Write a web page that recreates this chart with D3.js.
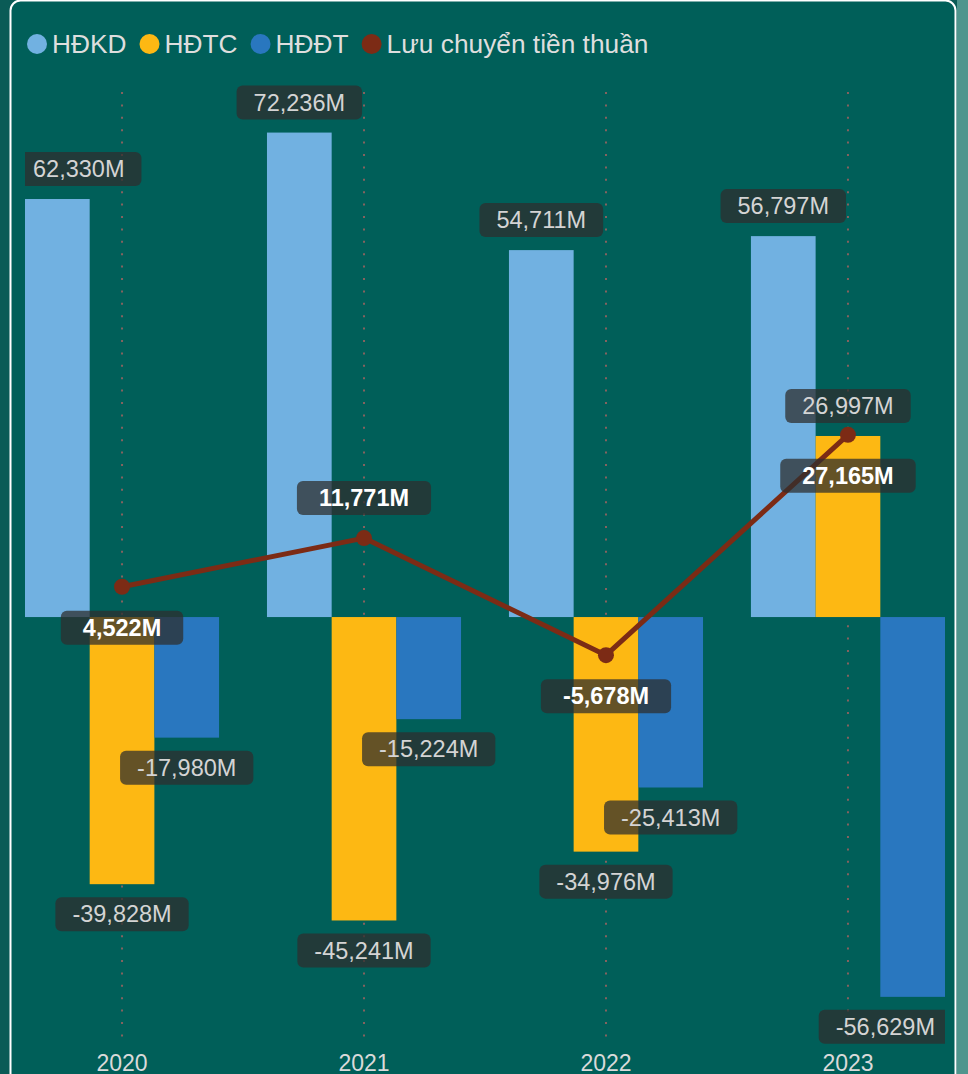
<!DOCTYPE html>
<html>
<head>
<meta charset="utf-8">
<script src="https://cdn.jsdelivr.net/npm/d3@7/dist/d3.min.js"></script>
<style>
  html, body { margin: 0; padding: 0; background: #0a5b56; }
  svg { display: block; }
</style>
</head>
<body>
<svg id="chart" width="968" height="1074"></svg>
<script>
// Cash-flow components per year (millions)
const years = ["2020", "2021", "2022", "2023"];
const seriesNames = ["HĐKD", "HĐTC", "HĐĐT"];
const hdkd = [62330, 72236, 54711, 56797];
const hdtc = [-39828, -45241, -34976, 26997];
const hddt = [-17980, -15224, -25413, -56629];
const netFlow = [4522, 11771, -5678, 27165];
const netName = "Lưu chuyển tiền thuần";

const colors = { "HĐKD": "#71b1e1", "HĐTC": "#fdb813", "HĐĐT": "#2977bf", net: "#7c2b15" };
const seriesValues = { "HĐKD": hdkd, "HĐTC": hdtc, "HĐĐT": hddt };

const W = 968, H = 1074;
const svg = d3.select("#chart");
const FONT = "'Liberation Sans', Arial, sans-serif";
const fmt = v => (v < 0 ? "-" : "") + d3.format(",")(Math.abs(v)) + "M";

// page surround and card
svg.append("rect").attr("x", 957).attr("y", 0).attr("width", 11).attr("height", H).attr("fill", "#4f958d");
svg.append("rect").attr("x", 10.5).attr("y", 0.5).attr("width", 945).attr("height", H + 20)
  .attr("rx", 10).attr("fill", "#005f59").attr("stroke", "#ffffff").attr("stroke-width", 2);

const plot = { left: 25, right: 945 };

const x0 = d3.scaleBand().domain(years).range([plot.left, plot.right]).paddingInner(0.198).paddingOuter(0);
const x1 = d3.scaleBand().domain(seriesNames).range([0, x0.bandwidth()]).padding(0);
const y = d3.scaleLinear().domain([-65000, 80000]).range([1053, 80.5]);

svg.append("defs").append("clipPath").attr("id", "plotClip")
  .append("rect").attr("x", plot.left).attr("y", 0).attr("width", plot.right - plot.left).attr("height", H);

// dotted category guides
svg.append("g").selectAll("line").data(years).join("line")
  .attr("x1", d => x0(d) + x0.bandwidth() / 2).attr("x2", d => x0(d) + x0.bandwidth() / 2)
  .attr("y1", 92).attr("y2", 1046)
  .attr("stroke", "#86625f").attr("stroke-width", 2).attr("stroke-dasharray", "2,10.4");

// bars
const barData = [];
years.forEach((yr, i) => seriesNames.forEach(s => barData.push({ year: yr, series: s, value: seriesValues[s][i] })));

svg.append("g").selectAll("rect").data(barData).join("rect")
  .attr("x", d => x0(d.year) + x1(d.series))
  .attr("width", x1.bandwidth())
  .attr("y", d => y(Math.max(0, d.value)))
  .attr("height", d => Math.abs(y(d.value) - y(0)))
  .attr("fill", d => colors[d.series]);

// net flow line
const netPts = years.map((yr, i) => ({ year: yr, value: netFlow[i], cx: x0(yr) + x0.bandwidth() / 2 }));
svg.append("path").datum(netPts)
  .attr("d", d3.line().x(d => d.cx).y(d => y(d.value)))
  .attr("fill", "none").attr("stroke", colors.net).attr("stroke-width", 5).attr("stroke-linejoin", "round");
svg.append("g").selectAll("circle").data(netPts).join("circle")
  .attr("cx", d => d.cx).attr("cy", d => y(d.value)).attr("r", 8).attr("fill", colors.net);

// data labels
const labelLayer = svg.append("g").attr("clip-path", "url(#plotClip)");
const BOX_H = 34, FS = 23.5;

function drawLabel(cx, top, text, bold) {
  const g = labelLayer.append("g");
  const t = g.append("text").attr("font-family", FONT).attr("font-size", FS)
    .attr("font-weight", bold ? "bold" : "normal")
    .attr("fill", bold ? "#ffffff" : "#d4d4d4").text(text);
  const tw = t.node().getComputedTextLength();
  const pad = bold ? 22 : 17;
  const bw = tw + pad * 2;
  let bx = cx - bw / 2;
  bx = Math.max(plot.left - 9, Math.min(bx, plot.right + 7 - bw));
  g.insert("rect", "text").attr("x", bx).attr("y", top).attr("width", bw).attr("height", BOX_H)
    .attr("rx", 6).attr("fill", "rgba(46,46,46,0.74)");
  t.attr("x", bx + pad).attr("y", top + BOX_H / 2 + FS * 0.35);
}

barData.forEach(d => {
  const cx = x0(d.year) + x1(d.series) + x1.bandwidth() / 2;
  const top = d.value >= 0 ? y(d.value) - 13 - BOX_H : y(d.value) + 13;
  drawLabel(cx, top, fmt(d.value), false);
});

// net-flow labels: above the point only where the space above is free
const aboveYears = new Set(["2021"]);
netPts.forEach(d => {
  const py = y(d.value);
  const top = aboveYears.has(d.year) ? py - 23 - BOX_H : py + 24;
  drawLabel(d.cx, top, fmt(d.value), true);
});

// year axis
svg.append("g").selectAll("text").data(years).join("text")
  .attr("x", d => x0(d) + x0.bandwidth() / 2).attr("y", 1071)
  .attr("text-anchor", "middle").attr("font-family", FONT).attr("font-size", 23)
  .attr("fill", "#dadada").text(d => d);

// legend
const legendItems = seriesNames.map(s => ({ name: s, color: colors[s] })).concat([{ name: netName, color: colors.net }]);
const legend = svg.append("g");
let lx = 37;
legendItems.forEach(item => {
  legend.append("circle").attr("cx", lx).attr("cy", 44).attr("r", 10).attr("fill", item.color);
  const t = legend.append("text").attr("x", lx + 15).attr("y", 52.5)
    .attr("font-family", FONT).attr("font-size", 26.3).attr("fill", "#dedede").text(item.name);
  lx += 15 + t.node().getComputedTextLength() + 23;
});
</script>
</body>
</html>
